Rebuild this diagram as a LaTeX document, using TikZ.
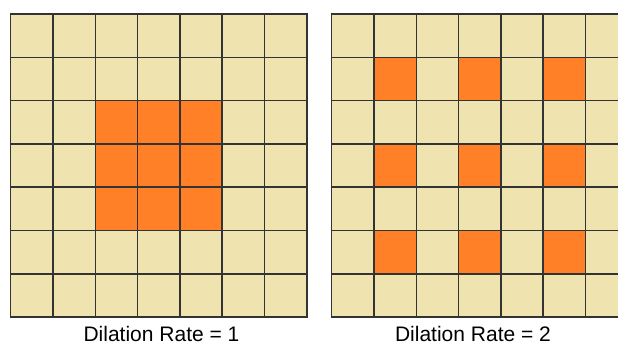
\documentclass[tikz,border=0pt]{standalone}
\usepackage{fontspec}
\setmainfont{Liberation Sans}
\usepackage{xcolor}
\definecolor{cellfill}{RGB}{239,228,176}
\definecolor{hitfill}{RGB}{255,128,38}

\begin{document}
\begin{tikzpicture}[
  x=1pt, y=1pt,
  cell/.style={fill=cellfill, minimum width=42.3pt, minimum height=43.3pt,
    inner sep=0pt, outer sep=0pt},
  hit/.style={cell, fill=hitfill},
  edge/.style={draw=black!80, line width=1.5pt},
  caption/.style={font=\fontsize{21}{24}\selectfont, anchor=base},
]
\useasboundingbox (0,0) rectangle (618,345);
\clip (0,0) rectangle (618,345);

% --- dilation rate 1 ---
\foreach \r in {0,...,6}
  \foreach \c in {0,...,6} {
    \def\sty{cell}
    \ifnum\r>1 \ifnum\r<5 \ifnum\c>1 \ifnum\c<5 \def\sty{hit}\fi\fi\fi\fi
    \node[\sty] (a-\r-\c) at ({10.7+(\c+0.5)*42.3}, {331-(\r+0.5)*43.3}) {};
  }
\foreach \r in {0,...,6}
  \foreach \c in {0,...,6}
    \draw[edge] (a-\r-\c.south west) rectangle (a-\r-\c.north east);
\node[caption] (capA) at (161.5, 3) {Dilation Rate = 1};

% --- dilation rate 2 ---
\foreach \r in {0,...,6}
  \foreach \c in {0,...,6} {
    \def\sty{cell}
    \ifodd\r\relax \ifodd\c\relax \def\sty{hit}\fi\fi
    \node[\sty] (b-\r-\c) at ({331.7+(\c+0.5)*42.3}, {331-(\r+0.5)*43.3}) {};
  }
\foreach \r in {0,...,6}
  \foreach \c in {0,...,6}
    \draw[edge] (b-\r-\c.south west) rectangle (b-\r-\c.north east);
\node[caption] (capB) at (473, 3) {Dilation Rate = 2};
\end{tikzpicture}
\end{document}
